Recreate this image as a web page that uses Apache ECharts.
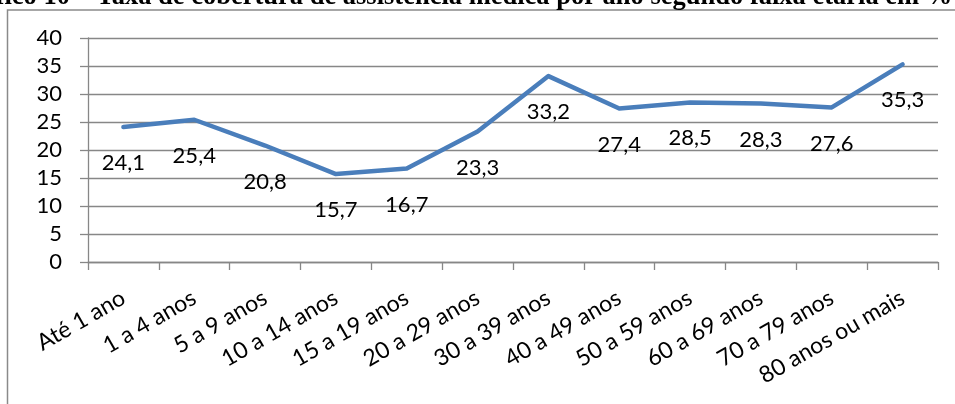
<!DOCTYPE html>
<html>
<head>
<meta charset="utf-8">
<script src="https://cdn.jsdelivr.net/npm/echarts@6/dist/echarts.min.js"></script>
<style>
html,body{margin:0;padding:0;background:#fff;}
#chart{width:955px;height:404px;}
</style>
</head>
<body>
<div id="chart"></div>
<script>
const titleText = 'Gráfico 10 – Taxa de cobertura de assistência médica por ano segundo faixa etária em %';
const categories = ['Até 1 ano','1 a 4 anos','5 a 9 anos','10 a 14 anos','15 a 19 anos','20 a 29 anos','30 a 39 anos','40 a 49 anos','50 a 59 anos','60 a 69 anos','70 a 79 anos','80 anos ou mais'];
const coverage = [24.1, 25.4, 20.8, 15.7, 16.7, 23.3, 33.2, 27.4, 28.5, 28.3, 27.6, 35.3];
const yMin = 0, yMax = 40, yStep = 5;

const chart = echarts.init(document.getElementById('chart'), null, {renderer:'canvas'});
const gridColor = '#878787';
chart.setOption({
  backgroundColor: '#ffffff',
  animation: false,
  graphic: [
    {
      type: 'rect', z: 0, silent: true,
      shape: {x: 7.5, y: 10, width: 1000, height: 500},
      style: {fill: 'none', stroke: '#8a8a8a', lineWidth: 1.5}
    },
    {
      type: 'text', z: 10, silent: true,
      x: -50, y: 11,
      style: {
        text: titleText,
        font: 'bold 26.5px "Liberation Serif", "Times New Roman", serif',
        fill: '#000',
        textAlign: 'left',
        textVerticalAlign: 'bottom'
      }
    }
  ],
  grid: {left: 88, right: 17, top: 38, bottom: 142, containLabel: false},
  xAxis: {
    type: 'category',
    data: categories,
    boundaryGap: true,
    axisLine: {show: true, lineStyle: {color: gridColor, width: 1.3}},
    axisTick: {show: true, length: 8, alignWithLabel: false, lineStyle: {color: gridColor, width: 1.3}},
    axisLabel: {
      interval: 0, rotate: 30, margin: 34,
      fontFamily: 'Lato', fontSize: 23, color: '#000'
    },
    splitLine: {show: false}
  },
  yAxis: {
    type: 'value',
    min: yMin, max: yMax, interval: yStep,
    axisLine: {show: true, lineStyle: {color: gridColor, width: 1.3}},
    axisTick: {show: true, length: 8, inside: false, lineStyle: {color: gridColor, width: 1.3}},
    axisLabel: {margin: 26, fontFamily: 'Lato', fontSize: 22, color: '#000'},
    splitLine: {show: true, lineStyle: {color: gridColor, width: 1.3}}
  },
  series: [{
    type: 'line',
    data: coverage,
    symbol: 'circle',
    symbolSize: 1,
    showSymbol: true,
    lineStyle: {color: '#4A7EBB', width: 4.5, cap: 'round', join: 'round'},
    itemStyle: {color: '#4A7EBB'},
    label: {
      show: true,
      position: 'inside',
      offset: [0, 36],
      fontFamily: 'Lato', fontSize: 22, color: '#000',
      formatter: p => String(p.value).replace('.', ',')
    }
  }]
});
</script>
</body>
</html>
